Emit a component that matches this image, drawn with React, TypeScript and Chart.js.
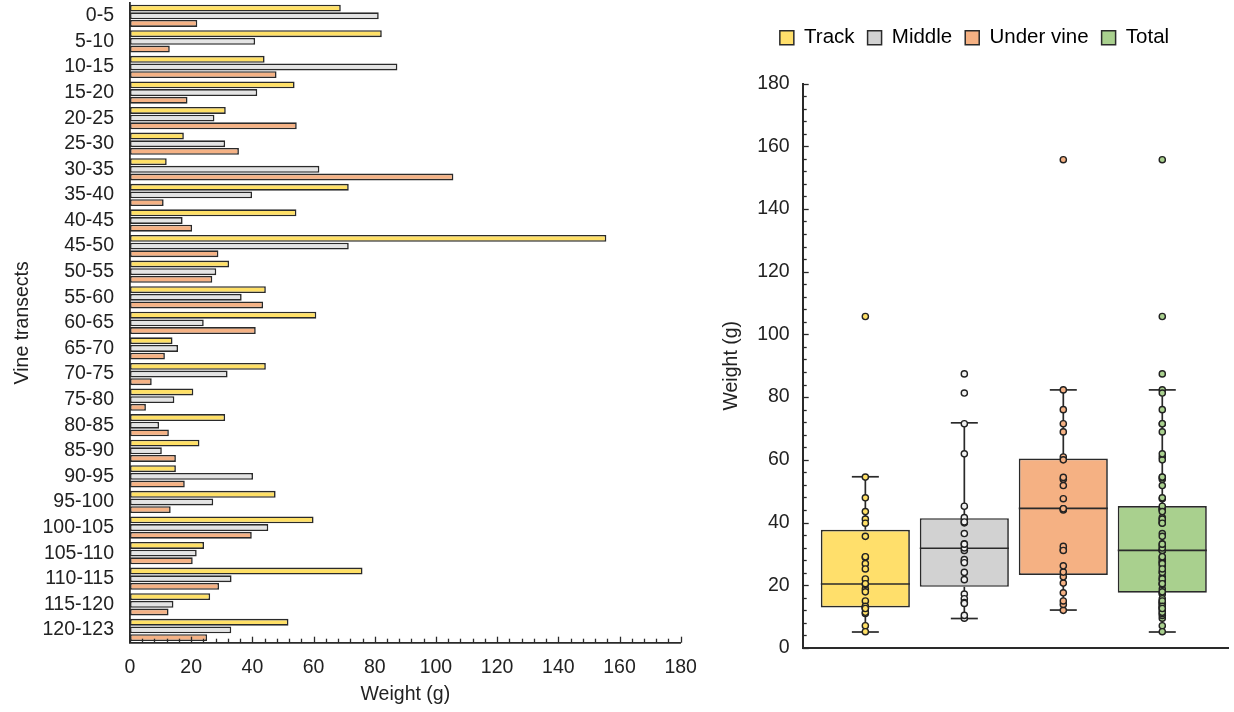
import React, { useEffect, useRef } from 'react';
import { Chart, registerables } from 'chart.js';

Chart.register(...registerables);
Chart.defaults.font.family = '"Liberation Sans", Arial, sans-serif';
Chart.defaults.font.size = 19.5;
Chart.defaults.color = '#222';

// ---- Left chart: weights per vine transect ----
const transects = [
  '0-5', '5-10', '10-15', '15-20', '20-25', '25-30', '30-35', '35-40', '40-45', '45-50',
  '50-55', '55-60', '60-65', '65-70', '70-75', '75-80', '80-85', '85-90', '90-95', '95-100',
  '100-105', '105-110', '110-115', '115-120', '120-123',
];
const trackWeights = [
  68.9, 82.3, 44.0, 53.8, 31.3, 17.6, 12.0, 71.5, 54.4, 155.7,
  32.4, 44.4, 60.9, 13.9, 44.4, 20.7, 31.1, 22.7, 15.0, 47.6,
  60.0, 24.2, 76.0, 26.2, 51.8,
];
const middleWeights = [
  81.3, 40.9, 87.4, 41.6, 27.6, 31.1, 61.9, 39.9, 17.2, 71.5,
  28.2, 36.5, 24.1, 15.7, 31.9, 14.5, 9.5, 10.4, 40.2, 27.2,
  45.2, 21.8, 33.2, 14.2, 33.1,
];
const underVineWeights = [
  22.0, 13.0, 47.9, 18.8, 54.5, 35.6, 105.7, 11.0, 20.3, 28.9,
  26.9, 43.5, 41.1, 11.4, 7.1, 5.2, 12.7, 15.0, 17.9, 13.3,
  39.8, 20.5, 29.1, 12.6, 25.2,
];
const xTickMax = 180;
const xTickStep = 20;

// ---- Right chart: box plots ----
const boxLabels = ['Track', 'Middle', 'Under vine', 'Total'];
const boxQ1 = [12.9, 19.5, 23.3, 17.6];
const boxMedian = [20.4, 31.8, 44.5, 31.1];
const boxQ3 = [37.7, 41.4, 60.4, 45.3];
const boxWhiskerLow = [5.1, 9.4, 12.1, 5.1];
const boxWhiskerHigh = [54.6, 71.8, 82.3, 82.3];
// individual points overlaid on each box, as they appear in the figure
const boxPointsTrack = underVineWeights;
const boxPointsMiddle = middleWeights;
const boxPointsUnderVine = trackWeights;
const boxPointsTotal = [...trackWeights, ...middleWeights, ...underVineWeights];
const boxPoints = [boxPointsTrack, boxPointsMiddle, boxPointsUnderVine, boxPointsTotal];

const barColors = ['#FFE066', '#E4E4E4', '#F5B285'];
const boxColors = ['#FFDF6B', '#D2D2D2', '#F5B183', '#A9D08E'];
const pointColors = ['#FFE066', '#F2F2F2', '#F5B183', '#A9D08E'];
const edge = '#2A2A2A';

const noEdgePadding = (s: any) => {
  s.paddingTop = 0;
  s.paddingBottom = 0;
  s.paddingLeft = 0;
  s.paddingRight = 0;
};

const innerTicksPlugin = {
  id: 'innerTicks',
  afterDraw(chart: any, _args: any, opts: any) {
    if (!opts || !opts.axis) return;
    const scale = chart.scales[opts.axis];
    const ctx = chart.ctx;
    ctx.save();
    ctx.strokeStyle = edge;
    ctx.lineWidth = 1.3;
    for (let v = scale.min; v <= scale.max + 1e-6; v += opts.minor) {
      const isMajor = Math.abs(Math.round(v) % opts.major) < 1e-6;
      const len = isMajor ? opts.majorLen : opts.minorLen;
      const p = Math.round(scale.getPixelForValue(v)) + 0.5;
      ctx.beginPath();
      if (scale.isHorizontal()) {
        ctx.moveTo(p, scale.top);
        ctx.lineTo(p, scale.top - len);
      } else {
        ctx.moveTo(scale.right, p);
        ctx.lineTo(scale.right + len, p);
      }
      ctx.stroke();
    }
    ctx.restore();
  },
};

const boxWhiskerPlugin = {
  id: 'boxWhisker',
  afterDatasetDraw(chart: any, args: any) {
    if (args.index !== 0) return;
    const y = chart.scales.y;
    const ctx = chart.ctx;
    ctx.save();
    ctx.strokeStyle = edge;
    ctx.lineWidth = 1.7;
    args.meta.data.forEach((bar: any, i: number) => {
      const x = bar.x;
      const half = bar.width / 2;
      const cap = 13.5;
      const line = (x1: number, y1: number, x2: number, y2: number) => {
        ctx.beginPath();
        ctx.moveTo(x1, y1);
        ctx.lineTo(x2, y2);
        ctx.stroke();
      };
      line(x - half, y.getPixelForValue(boxMedian[i]), x + half, y.getPixelForValue(boxMedian[i]));
      line(x, y.getPixelForValue(boxQ3[i]), x, y.getPixelForValue(boxWhiskerHigh[i]));
      line(x, y.getPixelForValue(boxQ1[i]), x, y.getPixelForValue(boxWhiskerLow[i]));
      line(x - cap, y.getPixelForValue(boxWhiskerHigh[i]), x + cap, y.getPixelForValue(boxWhiskerHigh[i]));
      line(x - cap, y.getPixelForValue(boxWhiskerLow[i]), x + cap, y.getPixelForValue(boxWhiskerLow[i]));
    });
    ctx.restore();
  },
};

function leftConfig(): any {
  const series = [
    { label: 'Track', data: trackWeights },
    { label: 'Middle', data: middleWeights },
    { label: 'Under vine', data: underVineWeights },
  ];
  return {
    type: 'bar',
    data: {
      labels: transects,
      datasets: series.map((s, i) => ({
        label: s.label,
        data: s.data,
        backgroundColor: barColors[i],
        borderColor: edge,
        borderWidth: 1.6,
        borderSkipped: false,
        categoryPercentage: 0.9,
        barPercentage: 0.9,
      })),
    },
    options: {
      indexAxis: 'y',
      animation: false,
      responsive: false,
      layout: { padding: { top: 3, right: 19.3, bottom: 0, left: 0 } },
      plugins: {
        legend: { display: false },
        tooltip: { enabled: false },
        innerTicks: { axis: 'x', minor: 4, major: 20, minorLen: 4, majorLen: 6 },
      },
      scales: {
        x: {
          type: 'linear',
          min: 0,
          max: xTickMax,
          ticks: { stepSize: xTickStep, padding: 13, color: '#222' },
          grid: { display: false, drawTicks: false },
          border: { display: true, color: edge, width: 1.8 },
          title: { display: true, text: 'Weight (g)', padding: { top: 0, bottom: 6 }, color: '#222' },
          afterFit: (s: any) => { s.height = 69.3; noEdgePadding(s); },
        },
        y: {
          ticks: { padding: 16, autoSkip: false, color: '#222' },
          grid: { display: false, drawTicks: false },
          border: { display: true, color: edge, width: 1.8 },
          title: { display: true, text: 'Vine transects', padding: { top: 10.6, bottom: 0 }, color: '#222' },
          afterFit: (s: any) => { s.width = 130; noEdgePadding(s); },
        },
      },
    },
    plugins: [innerTicksPlugin],
  };
}

function rightConfig(): any {
  return {
    type: 'bar',
    data: {
      datasets: [
        {
          type: 'bar',
          label: 'IQR',
          data: boxLabels.map((_, i) => ({ x: i + 1, y: [boxQ1[i], boxQ3[i]] })),
          backgroundColor: boxColors,
          borderColor: edge,
          borderWidth: 1.7,
          borderSkipped: false,
          barPercentage: 0.9,
          categoryPercentage: 1,
          order: 2,
        },
        ...boxPoints.map((pts, i) => ({
          type: 'scatter',
          label: boxLabels[i],
          data: pts.map((v) => ({ x: i + 1, y: v })),
          pointRadius: 3.1,
          pointBackgroundColor: pointColors[i],
          pointBorderColor: '#222',
          pointBorderWidth: 1.4,
          order: 1,
        })),
      ],
    },
    options: {
      animation: false,
      responsive: false,
      layout: { padding: { top: 14.5, left: 16, right: 1, bottom: 0 } },
      plugins: {
        legend: {
          display: true,
          position: 'top',
          weight: 3000,
          labels: {
            boxWidth: 14,
            boxHeight: 14,
            padding: 13,
            color: '#222',
            font: { size: 20.5 },
            generateLabels: () =>
              boxLabels.map((t, i) => ({
                text: t,
                fillStyle: boxColors[i],
                strokeStyle: edge,
                lineWidth: 1.5,
                hidden: false,
                datasetIndex: i + 1,
              })),
          },
        },
        title: { display: true, text: ' ', font: { size: 1 }, padding: { top: 0, bottom: 24.3 } },
        tooltip: { enabled: false },
        innerTicks: { axis: 'y', minor: 4, major: 20, minorLen: 4, majorLen: 6 },
      },
      scales: {
        x: {
          type: 'linear',
          offset: false,
          min: 0.367,
          max: 4.67,
          ticks: { display: false, stepSize: 1, includeBounds: false },
          grid: { display: false, drawTicks: false, offset: false },
          border: { display: true, color: edge, width: 2 },
          afterFit: (s: any) => { s.height = 64; noEdgePadding(s); },
        },
        y: {
          type: 'linear',
          min: 0,
          max: 180,
          ticks: { stepSize: 20, padding: 13, color: '#222' },
          grid: { display: false, drawTicks: false },
          border: { display: true, color: edge, width: 2 },
          title: { display: true, text: 'Weight (g)', padding: { top: 3.6, bottom: 0 }, color: '#222' },
          afterFit: (s: any) => { s.width = 86.7; noEdgePadding(s); },
        },
      },
    },
    plugins: [innerTicksPlugin, boxWhiskerPlugin],
  };
}

export default function App() {
  const leftRef = useRef<HTMLCanvasElement>(null);
  const rightRef = useRef<HTMLCanvasElement>(null);
  useEffect(() => {
    const c1 = new Chart(leftRef.current as HTMLCanvasElement, leftConfig());
    const c2 = new Chart(rightRef.current as HTMLCanvasElement, rightConfig());
    return () => {
      c1.destroy();
      c2.destroy();
    };
  }, []);
  return (
    <div style={{ position: 'fixed', left: 0, top: 0, width: 1234, height: 712, background: '#fff' }}>
      <canvas ref={leftRef} width={700} height={712} style={{ position: 'absolute', left: 0, top: 0, width: 700, height: 712 }} />
      <canvas ref={rightRef} width={534} height={712} style={{ position: 'absolute', left: 700, top: 0, width: 534, height: 712 }} />
    </div>
  );
}
